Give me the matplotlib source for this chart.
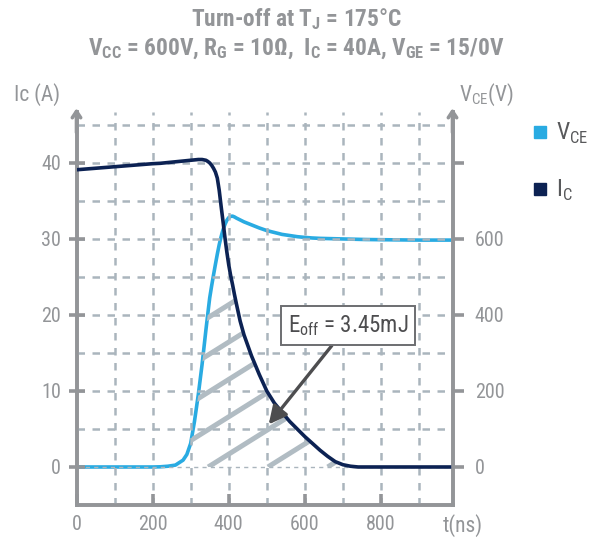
import matplotlib
matplotlib.use('Agg')
import matplotlib.pyplot as plt
from matplotlib.lines import Line2D
import numpy as np

plt.rcParams['font.family'] = ['Roboto Condensed', 'DejaVu Sans']
plt.rcParams['mathtext.fontset'] = 'custom'
plt.rcParams['mathtext.rm'] = 'Roboto Condensed'

# time axis (ns), shared by both curves
t_ns = [0, 100, 200, 220, 240, 260, 280, 290, 300, 310, 320, 330, 340, 345,
        350, 355, 360, 365, 370, 375, 380, 385, 390, 395, 400, 405, 410, 415,
        420, 430, 440, 460, 480, 500, 520, 540, 560, 580, 600, 620, 640, 660,
        680, 700, 720, 740, 760, 800, 850, 900, 950, 980]
ic_a = [39.1, 39.5, 39.9, 39.95, 40.05, 40.15, 40.25, 40.3, 40.35, 40.4, 40.45,
        40.45, 40.35, 40.2, 40.0, 39.7, 39.3, 38.8, 38.0, 36.4, 34.3, 32.3,
        30.2, 28.3, 26.6, 25.2, 24.0, 22.7, 21.5, 19.2, 17.4, 14.6, 12.2, 10.0,
        8.4, 7.2, 6.0, 5.0, 4.0, 3.1, 2.2, 1.4, 0.7, 0.3, 0.1, 0.0, 0.0, 0.0,
        0.0, 0.0, 0.0, 0.0]
vce_v = [0, 0, 0, 0.5, 2, 5, 18, 33, 62, 120, 190, 270, 360, 403, 445, 476,
         505, 533, 560, 585, 606, 624, 638, 649, 656, 659.5, 660, 658, 655,
         650, 645, 637, 629, 622, 617, 612, 609, 606, 604, 602.5, 601.5, 601,
         600.5, 600, 599.5, 599, 598.5, 598, 597.5, 597, 597, 597]

x_ticks = [0, 200, 400, 600, 800]
ic_ticks = [0, 10, 20, 30, 40]
vce_ticks = [0, 200, 400, 600, 800]
vce_labels = ['0', '200', '400', '600', '']
eoff_label = r'E$_\mathregular{off}$ = 3.45mJ'

t = np.array(t_ns)
ic = np.array(ic_a)
vce = np.array(vce_v)

gray = '#939598'
c_vce = '#29abe2'
c_ic = '#0c2253'
grid_c = '#aab5bd'
hatch_c = '#b1bcc3'

fig = plt.figure(figsize=(5.89, 5.38), dpi=100)
ax = fig.add_axes([76.5 / 589, 33 / 538, 376 / 589, 393 / 538])
ax.set_xlim(0, 988)
ax.set_ylim(-5, 46.7)
ax2 = ax.twinx()
ax2.set_ylim(-100, 934)

# dashed grid
for y in np.arange(5, 50, 5):
    ax.axhline(y, color=grid_c, lw=1.8, dashes=(3, 3), zorder=1)
ax.axhline(0, color=grid_c, lw=1.0, dashes=(3, 3), zorder=1)
for x in np.arange(100, 1000, 100):
    ax.axvline(x, color=grid_c, lw=1.8, dashes=(3, 3), zorder=1)

# hatched loss area
area = ax.fill_between(t, 0, np.minimum(ic, vce / 20.0), facecolor='none',
                       edgecolor='none')
clip = area.get_paths()[0]
slope = 0.0313
for b in np.arange(346 - 157 * 4, 1000, 157):
    ln, = ax.plot([b, b + 60 / slope], [0, 60], color=hatch_c, lw=3.6,
                  solid_capstyle='butt', zorder=2)
    ln.set_clip_path(clip, ax.transData)

ax.plot(t, ic, color=c_ic, lw=2.6, zorder=4)
ax2.plot(t, vce, color=c_vce, lw=2.6, zorder=3)
ax.set_zorder(ax2.get_zorder() + 1)
ax.patch.set_visible(False)

# spines and ticks
for a in (ax, ax2):
    for s in a.spines.values():
        s.set_color(gray)
        s.set_linewidth(2.6)
    a.spines['top'].set_visible(False)
ax.set_xticks(x_ticks)
ax.set_yticks(ic_ticks)
ax2.set_yticks(vce_ticks)
ax2.set_yticklabels(vce_labels)
ax.tick_params(axis='y', direction='inout', length=12, width=2.6, color=gray,
               labelcolor=gray, labelsize=14.5, pad=5)
ax.tick_params(axis='x', direction='in', length=8, width=2.6, color=gray,
               labelcolor=gray, labelsize=14.5, pad=7)
ax2.tick_params(axis='y', direction='out', length=8, width=2.6, color=gray,
                labelcolor=gray, labelsize=14.5, pad=8)

for xa in (0, 988):
    ax.annotate('', xy=(xa, 47.2), xytext=(xa, 44),
                arrowprops=dict(arrowstyle='->,head_length=0.45,head_width=0.3',
                                color=gray, lw=2.6, shrinkA=0, shrinkB=0),
                annotation_clip=False)

ax.annotate(eoff_label, xy=(505, 5.6), xytext=(713, 18.6), ha='center',
            va='center', fontsize=16.5, color='#4d4d4f',
            bbox=dict(boxstyle='square,pad=0.3', fc='white', ec='#6d6e71', lw=1.4),
            arrowprops=dict(arrowstyle='-|>,head_length=0.6,head_width=0.3',
                            color='#4d4d4f', lw=2.4, shrinkA=0, shrinkB=0,
                            mutation_scale=18),
            zorder=6)

fig.text(37 / 589, 1 - 95 / 538, 'Ic (A)', ha='center', va='center',
         fontsize=15.5, color=gray)
fig.text(487 / 589, 1 - 95 / 538, r'V$_\mathregular{CE}$(V)', ha='center',
         va='center', fontsize=15.5, color=gray)
fig.text(463 / 589, 1 - 526 / 538, 't(ns)', ha='center', va='center',
         fontsize=15.5, color=gray)

fig.text(296.5 / 589, 1 - 19 / 538, r'Turn-off at T$_\mathregular{J}$ = 175°C',
         ha='center', va='center', fontsize=16.8, color=gray, weight='bold')
fig.text(296.5 / 589, 1 - 49 / 538,
         r'V$_\mathregular{CC}$ = 600V, R$_\mathregular{G}$ = 10Ω,  '
         r'I$_\mathregular{C}$ = 40A, V$_\mathregular{GE}$ = 15/0V',
         ha='center', va='center', fontsize=16.8, color=gray, weight='bold')

handles = [Line2D([], [], ls='none', marker='s', ms=9, color=c_vce),
           Line2D([], [], ls='none', marker='s', ms=9, color=c_ic)]
fig.legend(handles, [r'V$_\mathregular{CE}$', r'I$_\mathregular{C}$'],
           loc='upper left', bbox_to_anchor=(532 / 589, 1 - 121 / 538),
           frameon=False, fontsize=17, labelcolor='#58595b', borderpad=0,
           borderaxespad=0, handletextpad=0.3, labelspacing=1.35,
           handlelength=0.7)

fig.savefig('out.png', dpi=100)
